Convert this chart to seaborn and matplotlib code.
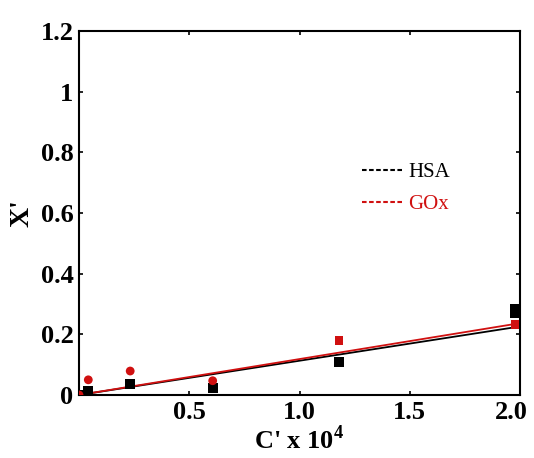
import matplotlib
matplotlib.use("Agg")
import matplotlib.pyplot as plt
import matplotlib.transforms as mtransforms
import pandas as pd
import seaborn as sns
from matplotlib.lines import Line2D

sns.set_theme(style="ticks")
plt.rcParams["font.family"] = ["Liberation Serif", "DejaVu Serif"]
plt.rcParams.update({"text.color": "black", "axes.labelcolor": "black",
                     "xtick.color": "black", "ytick.color": "black",
                     "axes.edgecolor": "black",
                     "mathtext.fontset": "custom",
                     "mathtext.rm": "Liberation Serif",
                     "mathtext.bf": "Liberation Serif:bold"})

# measured points (C' x 10^4, X')
hsa_c = [0.0, 0.042, 0.232, 0.606, 1.179, 1.977, 1.977]
hsa_x = [0.0, 0.014, 0.035, 0.024, 0.109, 0.284, 0.272]
gox_c = [0.0, 0.042, 0.232, 0.606, 1.179, 1.977]
gox_x = [0.0, 0.050, 0.079, 0.047, 0.179, 0.233]
gox_marker = ["o", "o", "o", "o", "s", "s"]

# fitted lines (end points)
fit_c = [0.0, 2.0]
hsa_fit = [0.0, 0.226]
gox_fit = [0.0, 0.237]

hsa_df = pd.DataFrame({"c": hsa_c, "x": hsa_x})
gox_df = pd.DataFrame({"c": gox_c, "x": gox_x, "m": gox_marker})
fit_df = pd.DataFrame({"c": fit_c + fit_c,
                       "x": hsa_fit + gox_fit,
                       "src": ["HSA"] * 2 + ["GOx"] * 2})

fig = plt.figure(figsize=(5.34, 4.58), dpi=100)
ax = fig.add_axes([0.148, 0.1376, 0.826, 0.7944])

sns.lineplot(data=fit_df, x="c", y="x", hue="src",
             palette={"HSA": "black", "GOx": "#d01010"},
             linewidth=1.3, legend=False, ax=ax)
sns.scatterplot(data=hsa_df, x="c", y="x", color="black", marker="s",
                s=45, linewidth=0, ax=ax, zorder=3)
sns.scatterplot(data=gox_df, x="c", y="x", style="m",
                markers={"o": "o", "s": "s"}, color="#d01010",
                s=40, linewidth=0, legend=False, ax=ax, zorder=4)

ax.set_xlim(0, 2.0)
ax.set_ylim(0, 1.2)
ax.set_xticks([0.5, 1.0, 1.5, 2.0])
ax.set_xticklabels(["0.5", "1.0", "1.5", "2.0"])
ax.set_yticks([0, 0.2, 0.4, 0.6, 0.8, 1.0, 1.2])
ax.set_yticklabels(["0", "0.2", "0.4", "0.6", "0.8", "1", "1.2"])
ax.tick_params(direction="in", length=3, width=1.2, top=True, right=True,
               labelsize=19, pad=4)
for lab in ax.get_xticklabels() + ax.get_yticklabels():
    lab.set_fontweight("bold")
# last x label sits a little left so it stays inside the figure
last = ax.get_xticklabels()[-1]
last.set_transform(last.get_transform() +
                   mtransforms.ScaledTranslation(-0.09, 0, fig.dpi_scale_trans))
for sp in ax.spines.values():
    sp.set_linewidth(1.5)
    sp.set_visible(True)

ax.set_xlabel("C' x 10$^\\mathbf{4}$", fontsize=19, fontweight="bold", labelpad=1)
ax.set_ylabel("X'", fontsize=20, fontweight="bold", labelpad=4)

handles = [Line2D([], [], color="black", linestyle=(0, (2.2, 1.2)), linewidth=1.5),
           Line2D([], [], color="#d01010", linestyle=(0, (2.2, 1.2)), linewidth=1.5)]
leg = ax.legend(handles, ["HSA", "GOx"], loc="upper left",
                bbox_to_anchor=(0.6, 0.69), frameon=False, fontsize=15,
                handlelength=1.9, handletextpad=0.3, labelspacing=0.6)
leg.get_texts()[1].set_color("#d01010")

fig.savefig("out.png", dpi=100)
